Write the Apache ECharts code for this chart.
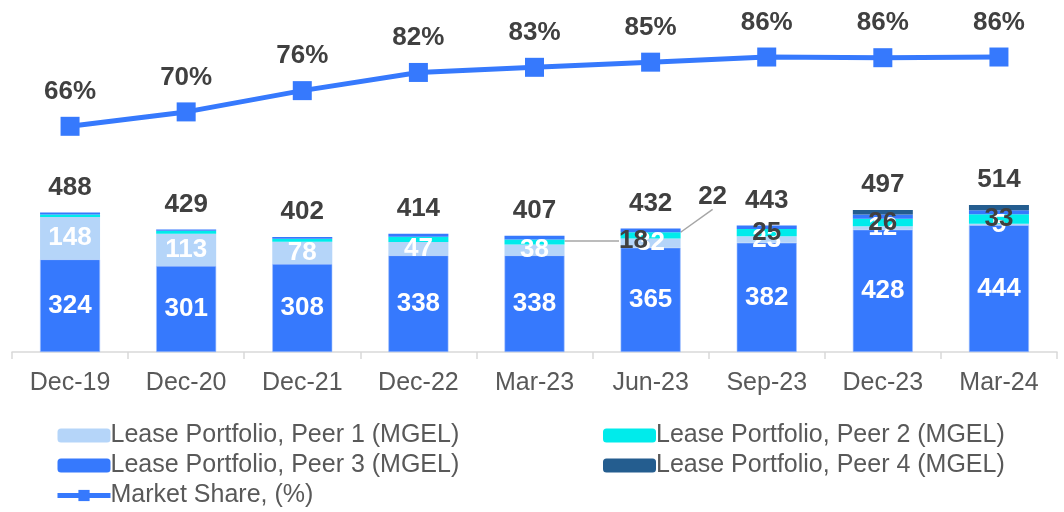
<!DOCTYPE html>
<html>
<head>
<meta charset="utf-8">
<script src="https://cdn.jsdelivr.net/npm/echarts@6/dist/echarts.min.js"></script>
<style>
  html, body { margin: 0; padding: 0; background: #fff; }
  #chart { width: 1064px; height: 512px; }
</style>
</head>
<body>
<div id="chart"></div>
<script>
// data
var categories = ["Dec-19", "Dec-20", "Dec-21", "Dec-22", "Mar-23", "Jun-23", "Sep-23", "Dec-23", "Mar-24"];
var peer3 = [324, 301, 308, 338, 338, 365, 382, 428, 444];
var peer1 = [148, 113, 78, 47, 38, 32, 23, 12, 5];
var peer2 = [9, 10, 10, 18, 18, 22, 25, 26, 33];
var others = [7, 5, 6, 11, 13, 13, 13, 15, 14];
var peer4 = [0, 0, 0, 0, 0, 0, 0, 16, 18];
var totals = [488, 429, 402, 414, 407, 432, 443, 497, 514];
var marketShare = [65.8, 70, 76.2, 81.5, 83, 84.5, 86, 85.8, 86];

var peer2Labels = [false, false, false, false, true, true, true, true, true];

var FONT = "Liberation Sans, Arial, sans-serif";
var DARK = "#404040";
var GREY = "#595959";
var BLUE = "#3679FD";

var chart = echarts.init(document.getElementById("chart"));

function boldLabel(color) {
  return { show: true, position: "inside", color: color, fontWeight: "bold", fontSize: 26, fontFamily: FONT };
}

var legendText = { color: GREY, fontSize: 25, fontFamily: FONT, padding: [0, 0, 0, -5] };

var option = {
  animation: false,
  grid: { left: 12, right: 7, top: 9, bottom: 160 },
  legend: [
    {
      orient: "vertical", left: 55, top: 423, itemGap: 5, padding: 0,
      itemWidth: 53, itemHeight: 14,
      textStyle: legendText,
      data: [
        { name: "Lease Portfolio, Peer 1 (MGEL)" },
        { name: "Lease Portfolio, Peer 3 (MGEL)", itemStyle: { borderWidth: 0 } },
        { name: "Market Share, (%)", lineStyle: { width: 5 } }
      ]
    },
    {
      orient: "vertical", left: 603, top: 423, itemGap: 5, padding: 0,
      itemWidth: 53, itemHeight: 14,
      textStyle: legendText,
      data: ["Lease Portfolio, Peer 2 (MGEL)", "Lease Portfolio, Peer 4 (MGEL)"]
    }
  ],
  xAxis: {
    type: "category",
    data: categories,
    axisLine: { lineStyle: { color: "#d9d9d9", width: 1.5 } },
    axisTick: { show: true, length: 7, lineStyle: { color: "#d9d9d9", width: 1.5 } },
    axisLabel: { color: GREY, fontSize: 25, fontFamily: FONT, margin: 19 }
  },
  yAxis: [
    { type: "value", min: 0, max: 1200, show: false, splitLine: { show: false } },
    { type: "value", min: 0, max: 100, show: false, splitLine: { show: false } }
  ],
  series: [
    {
      name: "Lease Portfolio, Peer 3 (MGEL)", type: "bar", stack: "s", barWidth: 60, barGap: "-100%",
      itemStyle: { color: BLUE, borderColor: "#9dbdfd", borderWidth: 0.6 },
      label: boldLabel("#fff"),
      data: peer3
    },
    {
      name: "Lease Portfolio, Peer 1 (MGEL)", type: "bar", stack: "s",
      itemStyle: { color: "#B5D5F9" },
      label: boldLabel("#fff"),
      data: peer1
    },
    {
      name: "Lease Portfolio, Peer 2 (MGEL)", type: "bar", stack: "s",
      itemStyle: { color: "#00EBEB" },
      label: Object.assign(boldLabel(DARK), {
        formatter: function (p) { return peer2Labels[p.dataIndex] ? p.value : ""; }
      }),
      labelLine: { show: true, lineStyle: { color: "#a6a6a6", width: 1.5 } },
      labelLayout: function (p) {
        if (p.dataIndex === 4) return { dx: 99, dy: -1 };
        if (p.dataIndex === 5) return { dx: 62, dy: -39 };
        return {};
      },
      data: peer2
    },
    {
      name: "Other", type: "bar", stack: "s",
      itemStyle: { color: BLUE },
      data: others
    },
    {
      name: "Lease Portfolio, Peer 4 (MGEL)", type: "bar", stack: "s",
      itemStyle: { color: "#245D8F" },
      data: peer4
    },
    {
      name: "Total", type: "bar", barWidth: 60, barGap: "-100%",
      itemStyle: { color: "rgba(255,255,255,0)" },
      label: Object.assign(boldLabel(DARK), { position: "top", distance: 12 }),
      data: totals,
      z: 5
    },
    {
      name: "Market Share, (%)", type: "line", yAxisIndex: 1,
      symbol: "rect", symbolSize: 19,
      lineStyle: { color: BLUE, width: 5 },
      itemStyle: { color: BLUE },
      label: Object.assign(boldLabel(DARK), {
        position: "top", distance: 12,
        formatter: function (p) { return Math.round(p.value) + "%"; }
      }),
      data: marketShare
    }
  ]
};

chart.setOption(option);
</script>
</body>
</html>
